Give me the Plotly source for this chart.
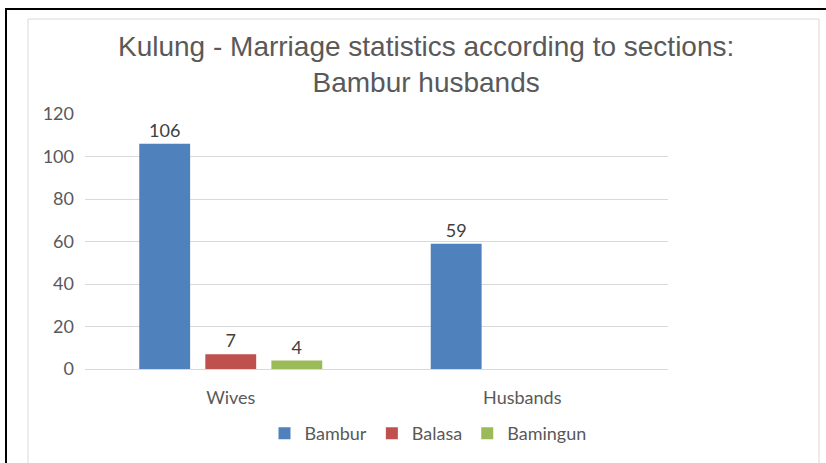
import plotly.graph_objects as go

categories = ["Wives", "Husbands"]
bambur = [106, 59]
balasa = [7, None]
bamingun = [4, None]
series_names = ["Bambur", "Balasa", "Bamingun"]
series_colors = ["#4f81bd", "#c0504d", "#9bbb59"]
y_ticks = [0, 20, 40, 60, 80, 100, 120]

W, H = 826, 463
L, R, T, B = 85, 158, 114, 94
pw, ph = W - L - R, H - T - B

LABEL_FONT = "Lato"


def px_x(px):
    return (px - L) / pw


def px_y(py):
    return (H - B - py) / ph


fig = go.Figure()
for name, vals, col in zip(series_names, [bambur, balasa, bamingun], series_colors):
    fig.add_trace(go.Bar(
        x=categories, y=vals, name=name,
        marker=dict(color=col, line=dict(width=0)),
        text=[("" if v is None else str(v)) for v in vals],
        textposition="outside",
        textfont=dict(family=LABEL_FONT, size=18, color="#404040"),
        cliponaxis=False,
    ))

fig.update_layout(
    width=W, height=H,
    margin=dict(l=L, r=R, t=T, b=B, autoexpand=False),
    paper_bgcolor="white", plot_bgcolor="white",
    barmode="group", bargap=0.32, bargroupgap=0.23,
    xaxis=dict(
        showgrid=False, showline=False, ticks="", ticklabelstandoff=16,
        automargin=False,
        tickfont=dict(family=LABEL_FONT, size=18, color="#595959"),
    ),
    yaxis=dict(
        range=[0, 120], tickvals=y_ticks, showgrid=True,
        gridcolor="#d9d9d9", gridwidth=1, zeroline=True,
        zerolinecolor="#d9d9d9", zerolinewidth=1, showline=False,
        ticks="", ticklabelstandoff=10, automargin=False,
        tickfont=dict(family=LABEL_FONT, size=18, color="#595959"),
    ),
    legend=dict(
        orientation="h", x=(428 - L) / pw, xanchor="center",
        y=px_y(415), yanchor="top",
        font=dict(family=LABEL_FONT, size=18, color="#595959"),
        itemwidth=30,
    ),
    annotations=[
        dict(text="Kulung - Marriage statistics according to sections:<br>Bambur husbands",
             xref="paper", yref="paper", x=px_x(426), y=px_y(64),
             xanchor="center", yanchor="middle", showarrow=False,
             font=dict(family="Liberation Sans", size=28, color="#595959")),
    ],
    shapes=[
        # outer chart frame
        dict(type="rect", xref="paper", yref="paper",
             x0=px_x(28), x1=px_x(819), y0=px_y(470), y1=px_y(19),
             line=dict(color="#d9d9d9", width=1), layer="below"),
        # heavy border along top and left
        dict(type="line", xref="paper", yref="paper",
             x0=px_x(5), x1=px_x(830), y0=px_y(9), y1=px_y(9),
             line=dict(color="black", width=2)),
        dict(type="line", xref="paper", yref="paper",
             x0=px_x(6), x1=px_x(6), y0=px_y(9), y1=px_y(470),
             line=dict(color="black", width=2)),
    ],
)

fig.write_html("out.html")
